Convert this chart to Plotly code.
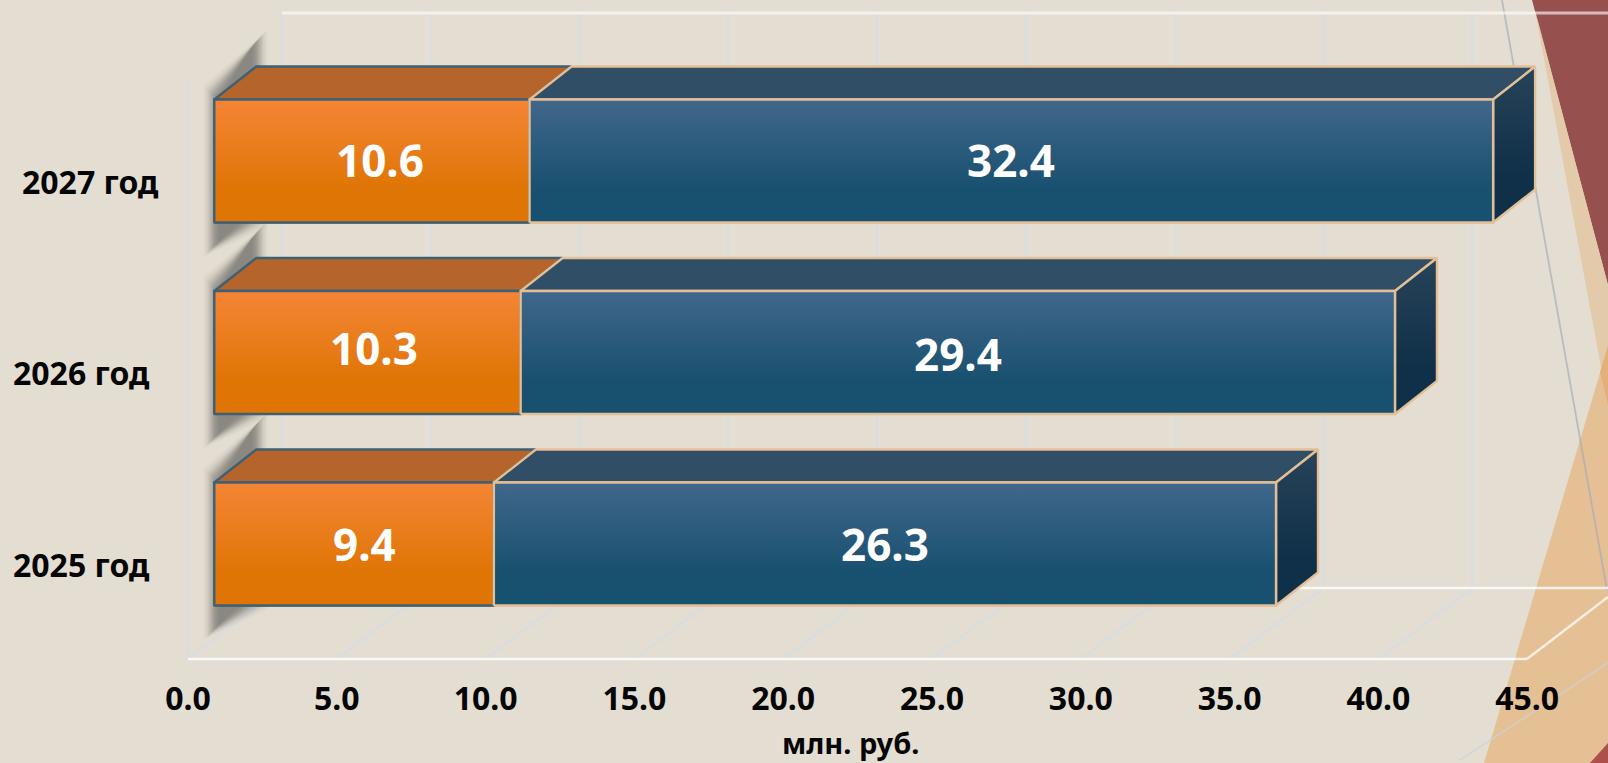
import plotly.graph_objects as go

# ---------- data ----------
years = ["2025 год", "2026 год", "2027 год"]
orange_values = [9.4, 10.3, 10.6]
blue_values = [26.3, 29.4, 32.4]
x_ticks = [0, 5, 10, 15, 20, 25, 30, 35, 40, 45]
x_title = "млн. руб."

# ---------- geometry and style ----------
W, H = 1608, 763
PPU = 29.74          # pixels per x unit
PPC = 191.5          # pixels per category
BAR_X0 = 214.3       # pixel of x=0 on the bar plane
AXIS_X0 = 188        # pixel of x=0 on the front plane
AXIS_PPU = 29.76
CAT0_Y = 544         # pixel of the first category centre
BAR_W = 0.642
DX = 42 / PPU        # bar depth in x units
DY = 33 / PPC        # bar depth in category units
FONT = "Noto Sans"
BG = "#E4DED2"
INK = "#050505"
SHADOW_ALPHAS = [.012, .02, .03, .04, .055, .07, .08, .085, .085, .08, .07, .055, .04, .03]


def fx(p):
    return p / W


def fy(p):
    return 1 - p / H


def poly(pts, fill, layer="below"):
    path = "M " + " L ".join(f"{fx(x):.5f} {fy(y):.5f}" for x, y in pts) + " Z"
    return dict(type="path", xref="paper", yref="paper", path=path, fillcolor=fill,
                line=dict(width=0), layer=layer)


def seg(x0, y0, x1, y1, color, width=2):
    return dict(type="line", xref="paper", yref="paper", x0=fx(x0), y0=fy(y0), x1=fx(x1), y1=fy(y1),
                line=dict(color=color, width=width), layer="below")


shapes = []
# page decoration
shapes.append(poly([(1532, 0), (1608, 0), (1608, 285)], "#96504E"))
shapes.append(poly([(1535, 10), (1608, 285), (1608, 405)], "#E3CAAA"))
shapes.append(poly([(1484, 763), (1608, 346), (1608, 763)], "#E4C094"))
shapes.append(poly([(1600, 372), (1608, 346), (1608, 405)], "#E5B078"))
shapes.append(poly([(1590, 763), (1608, 743), (1608, 763)], "#AD504C"))

# 3D frame
GRID = "#D9DDDF"
back_x = [282 + 148.8 * i for i in range(9)]
front_x = [188 + 148.8 * i for i in range(9)]
for bx, ax in zip(back_x, front_x):
    shapes.append(seg(bx, 13, bx, 588, GRID, 2.5))
    shapes.append(seg(ax, 659, bx, 588, GRID, 2.5))
shapes.append(seg(188, 84, 188, 659, GRID, 2.5))
shapes.append(seg(1502, 0, 1607, 590, "rgba(165,173,182,0.7)", 1.8))
shapes.append(seg(1460, 760, 1608, 663, "rgba(205,210,216,0.7)", 1.8))
shapes.append(seg(282, 13, 1608, 13, "rgba(255,255,255,0.62)", 3))
shapes.append(seg(282, 588, 1608, 588, "rgba(255,255,255,0.8)", 2.5))
shapes.append(seg(188, 659, 1527, 659, "rgba(255,255,255,0.8)", 2.5))
shapes.append(seg(1527, 659, 1608, 597, "rgba(255,255,255,0.75)", 2.5))

# soft wall shadow behind every bar, built from nested translucent layers
for i in range(len(years)):
    c = CAT0_Y - i * PPC
    top = c - BAR_W / 2 * PPC
    bot = c + BAR_W / 2 * PPC
    for k, a in enumerate(SHADOW_ALPHAS):
        t = k * 1.25
        shapes.append(poly([(203 + t, top - 15 + t), (268 - t, top - 70 + t),
                            (268 - t, bot + 5 - t), (203 + t, bot + 35 - t)],
                           f"rgba(75,75,65,{a})"))

# ---------- traces ----------
fig = go.Figure()
y_pos = list(range(len(years)))

ORANGE = dict(front=[[0, "#DF7505"], [0.27, "#DF7505"], [1, "#F58536"]], top="#B5652B",
              side=[[0, "#B5652B"], [1, "#B5652B"]], line="#3F6073")
BLUE = dict(front=[[0, "#18506F"], [0.27, "#18506F"], [1, "#41678B"]], top="#304E65",
            side=[[0, "#0F3048"], [0.3, "#0F3048"], [1, "#284359"]], line="#E3BF97")


def face(xs, ys, gradient=None, solid=None, line="#000"):
    kw = dict(fillgradient=dict(type="vertical", colorscale=gradient)) if gradient else dict(fillcolor=solid)
    fig.add_trace(go.Scatter(x=xs + xs[:1], y=ys + ys[:1], mode="lines", fill="toself",
                             line=dict(color=line, width=2.4), hoverinfo="skip", showlegend=False,
                             xaxis="x", yaxis="y", **kw))


def solid_bar(values, base, color, line, name):
    fig.add_trace(go.Bar(y=y_pos, x=values, base=base, orientation="h", width=BAR_W, name=name,
                         marker=dict(color=color, line=dict(color=line, width=2)),
                         showlegend=False, xaxis="x", yaxis="y"))


solid_bar(orange_values, [0] * 3, "#E97E1B", ORANGE["line"], "orange")
solid_bar(blue_values, orange_values, "#2A5B7C", BLUE["line"], "blue")

for series, values, bases in [(ORANGE, orange_values, [0, 0, 0]), (BLUE, blue_values, orange_values)]:
    for y, v, b in zip(y_pos, values, bases):
        x0, x1 = b, b + v
        y0, y1 = y - BAR_W / 2, y + BAR_W / 2
        face([x0, x1, x1 + DX, x0 + DX], [y1, y1, y1 + DY, y1 + DY], solid=series["top"], line=series["line"])
        if series is BLUE:
            face([x1, x1 + DX, x1 + DX, x1], [y0, y0 + DY, y1 + DY, y1], gradient=series["side"], line=series["line"])
        face([x0, x1, x1, x0], [y0, y0, y1, y1], gradient=series["front"], line=series["line"])

# invisible trace that carries the front-plane tick axis
fig.add_trace(go.Scatter(x=x_ticks, y=[0] * len(x_ticks), mode="markers", marker=dict(opacity=0),
                         hoverinfo="skip", showlegend=False, xaxis="x2", yaxis="y"))

# ---------- labels ----------
annotations = []
label_shift_o = [10, 7, 8]
label_dy_o = [0, -5, -1]
label_dy_b = [0, 1, -1]
for i in y_pos:
    annotations.append(dict(xref="x", yref="y", x=orange_values[i] / 2 + label_shift_o[i] / PPU,
                            y=i - label_dy_o[i] / PPC, text=f"{orange_values[i]}", showarrow=False,
                            font=dict(family=FONT, size=44, color="white", weight=700)))
    annotations.append(dict(xref="x", yref="y", x=orange_values[i] + blue_values[i] / 2,
                            y=i - label_dy_b[i] / PPC, text=f"{blue_values[i]}", showarrow=False,
                            font=dict(family=FONT, size=44, color="white", weight=700)))

cat_right = [152, 152, 161]
cat_y = [564, 372, 181]
for name, r, y in zip(years, cat_right, cat_y):
    annotations.append(dict(xref="paper", yref="paper", x=fx(r), y=fy(y), xanchor="right", yanchor="middle",
                            text=name, showarrow=False,
                            font=dict(family=FONT, size=32, color=INK, weight=700)))
annotations.append(dict(xref="paper", yref="paper", x=fx(851), y=fy(742.5), xanchor="center", yanchor="middle",
                        text=x_title, showarrow=False,
                        font=dict(family=FONT, size=29, color=INK, weight=700)))

# ---------- layout ----------
fig.update_layout(
    width=W, height=H, margin=dict(l=0, r=0, t=0, b=0), autosize=False,
    paper_bgcolor=BG, plot_bgcolor="rgba(0,0,0,0)", barmode="overlay", showlegend=False,
    shapes=shapes, annotations=annotations,
    xaxis=dict(range=[-BAR_X0 / PPU, (W - BAR_X0) / PPU], domain=[0, 1], visible=False, fixedrange=True),
    xaxis2=dict(range=[-AXIS_X0 / AXIS_PPU, (W - AXIS_X0) / AXIS_PPU], domain=[0, 1], overlaying="x", anchor="free",
                position=fy(677), side="bottom", tickvals=x_ticks, ticktext=[f"{t:.1f}" for t in x_ticks],
                showgrid=False, zeroline=False, showline=False, ticks="", fixedrange=True,
                tickfont=dict(family=FONT, size=32, color=INK, weight=700)),
    yaxis=dict(range=[(CAT0_Y - H) / PPC, CAT0_Y / PPC], domain=[0, 1], visible=False, fixedrange=True),
)

fig.write_html("out.html", post_script="document.body.style.margin='0';document.body.style.overflow='hidden';",
               config=dict(displayModeBar=False))
